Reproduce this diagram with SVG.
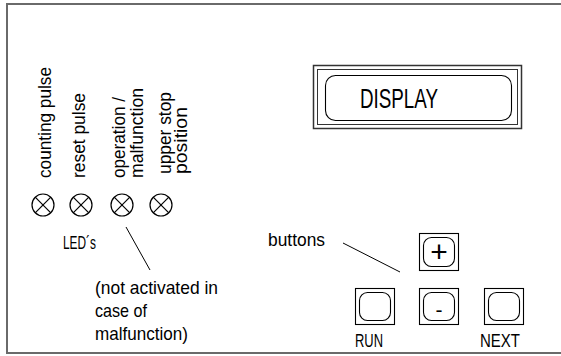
<svg xmlns="http://www.w3.org/2000/svg" width="561" height="356" viewBox="0 0 561 356">
<style>
text{font-family:"Liberation Sans",Arial,sans-serif;fill:#000}
.lbl{font-size:19px}
.frame{fill:none;stroke:#6a6a6a;stroke-width:2}
.led circle{fill:none;stroke:#000;stroke-width:1.2}
.led line{stroke:#000;stroke-width:1.2}
.btn .o{fill:none;stroke:#000;stroke-width:1.1}
.btn .i{fill:none;stroke:#000;stroke-width:1.1}
.conn line{stroke:#000;stroke-width:1}
</style>
<rect width="561" height="356" fill="#fff"/>
<path class="frame" d="M563,4 H7 V353 H563"/>

<g id="display">
<rect x="313.5" y="65.5" width="208" height="63" fill="none" stroke="#333" stroke-width="1.5"/>
<rect x="317.5" y="69.5" width="200" height="55" fill="none" stroke="#333" stroke-width="1"/>
<rect x="325.5" y="75.5" width="186" height="45" rx="10" fill="none" stroke="#000" stroke-width="1.1"/>
<text x="360" y="108" font-size="27" textLength="78" lengthAdjust="spacingAndGlyphs">DISPLAY</text>
</g>

<g id="led-labels">
<text class="lbl" transform="translate(51,178) rotate(-90)" textLength="111" lengthAdjust="spacingAndGlyphs">counting pulse</text>
<text class="lbl" transform="translate(85,178) rotate(-90)" textLength="85" lengthAdjust="spacingAndGlyphs">reset pulse</text>
<text class="lbl" transform="translate(125,178) rotate(-90)" textLength="81" lengthAdjust="spacingAndGlyphs">operation /</text>
<text class="lbl" transform="translate(143,178) rotate(-90)" textLength="90" lengthAdjust="spacingAndGlyphs">malfunction</text>
<text class="lbl" transform="translate(171,174) rotate(-90)" textLength="82" lengthAdjust="spacingAndGlyphs">upper stop</text>
<text class="lbl" transform="translate(187,174) rotate(-90)" textLength="67" lengthAdjust="spacingAndGlyphs">position</text>
</g>

<g id="led1" class="led"><circle cx="43" cy="205" r="11"/><line x1="35.2" y1="197.2" x2="50.8" y2="212.8"/><line x1="50.8" y1="197.2" x2="35.2" y2="212.8"/></g>
<g id="led2" class="led"><circle cx="81" cy="205" r="11"/><line x1="73.2" y1="197.2" x2="88.8" y2="212.8"/><line x1="88.8" y1="197.2" x2="73.2" y2="212.8"/></g>
<g id="led3" class="led"><circle cx="122" cy="205" r="11"/><line x1="114.2" y1="197.2" x2="129.8" y2="212.8"/><line x1="129.8" y1="197.2" x2="114.2" y2="212.8"/></g>
<g id="led4" class="led"><circle cx="161" cy="205" r="11"/><line x1="153.2" y1="197.2" x2="168.8" y2="212.8"/><line x1="168.8" y1="197.2" x2="153.2" y2="212.8"/></g>

<g id="leds-label"><text class="lbl" x="63" y="249" textLength="33" lengthAdjust="spacingAndGlyphs">LED´s</text></g>

<g id="note">
<text class="lbl" x="95" y="294" textLength="123" lengthAdjust="spacingAndGlyphs">(not activated in</text>
<text class="lbl" x="95" y="317" textLength="52" lengthAdjust="spacingAndGlyphs">case of</text>
<text class="lbl" x="95" y="340" textLength="93" lengthAdjust="spacingAndGlyphs">malfunction)</text>
</g>

<g id="buttons-label"><text class="lbl" x="268" y="246" textLength="57" lengthAdjust="spacingAndGlyphs">buttons</text></g>

<g id="btn-plus" class="btn">
<rect class="o" x="419.5" y="233.5" width="39" height="37"/>
<rect class="i" x="423.5" y="237.5" width="31" height="29" rx="8"/>
<text x="439" y="262" font-size="30" text-anchor="middle">+</text>
</g>
<g id="btn-run" class="btn">
<rect class="o" x="355.5" y="288.5" width="39" height="36"/>
<rect class="i" x="359.5" y="292.5" width="31" height="28" rx="8"/>
</g>
<g id="btn-minus" class="btn">
<rect class="o" x="419.5" y="288.5" width="39" height="36"/>
<rect class="i" x="423.5" y="292.5" width="31" height="28" rx="8"/>
<text x="439" y="317" font-size="21" text-anchor="middle">-</text>
</g>
<g id="btn-next" class="btn">
<rect class="o" x="484.5" y="288.5" width="39" height="36"/>
<rect class="i" x="488.5" y="292.5" width="31" height="28" rx="8"/>
</g>
<g id="run-label"><text class="lbl" x="355" y="347" textLength="28" lengthAdjust="spacingAndGlyphs">RUN</text></g>
<g id="next-label"><text class="lbl" x="480" y="347" textLength="40" lengthAdjust="spacingAndGlyphs">NEXT</text></g>

<g id="connectors" class="conn">
<line x1="126" y1="227" x2="150" y2="270"/>
<line x1="343" y1="243" x2="400" y2="272"/>
</g>
</svg>
